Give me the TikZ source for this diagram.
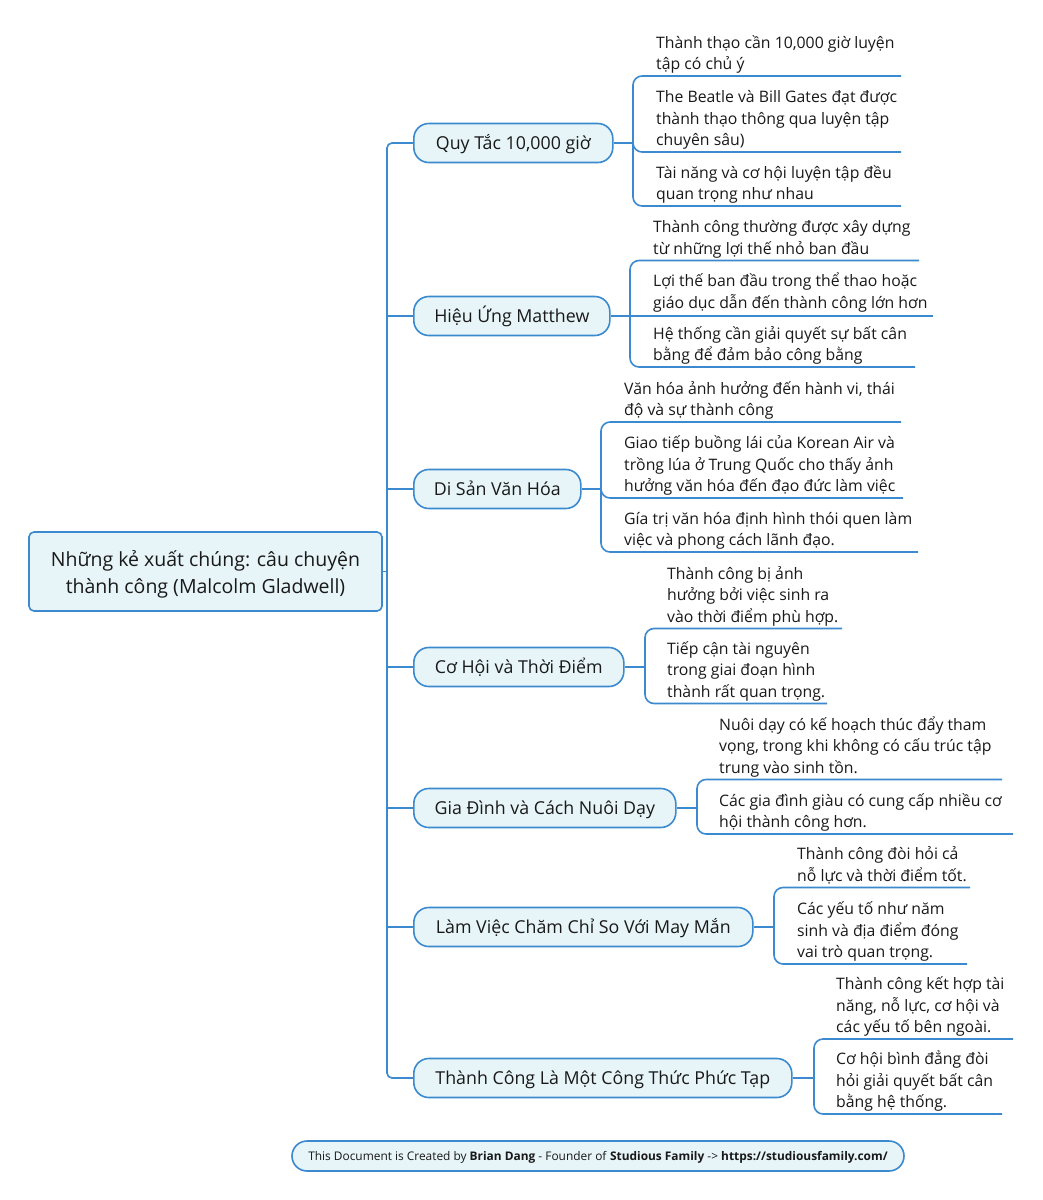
\documentclass[tikz,border=0pt]{standalone}
\usepackage{fontspec}
\setmainfont{Open Sans}
\definecolor{lineblue}{RGB}{59,138,207}
\definecolor{fillcyan}{RGB}{231,245,248}
\definecolor{txt}{RGB}{25,25,25}
\newcommand{\lv}[1]{\begin{tabular}[b]{@{}l@{}}#1\end{tabular}}
\newcommand{\lowerby}[2]{\raisebox{-#1}[\height][\depth]{#2}}
\begin{document}
\begin{tikzpicture}[x=1pt,y=-1pt,
  conn/.style={draw=lineblue, line width=1.6pt},
  leafconn/.style={conn, rounded corners=9pt},
  branch/.style={draw=lineblue, line width=1.6pt, fill=fillcyan, rounded corners=15pt,
    minimum height=39pt, inner sep=0pt, anchor=west, text=txt,
    font=\fontsize{17.8}{20}\selectfont, text height=14.5pt, text depth=1.5pt},
  rootbox/.style={draw=lineblue, line width=1.6pt, fill=fillcyan, rounded corners=5pt,
    inner sep=0pt, text=txt, font=\fontsize{19.5}{27}\selectfont},
  leaf/.style={anchor=base west, inner sep=0pt, text=txt, font=\fontsize{15.8}{21.5}\selectfont},
  footer/.style={draw=lineblue, line width=1.6pt, fill=fillcyan, rounded corners=15pt,
    inner sep=0pt, text=txt, font=\fontsize{11.9}{14}\selectfont}
]
\useasboundingbox[fill=white] (0,0) rectangle (1042,1200);

% root
\node[rootbox, minimum width=353pt, minimum height=79pt] (root) at (205.5,571.5)
  {\lowerby{3.5pt}{\begin{tabular}{@{}c@{}}Những kẻ xuất chúng: câu chuyện\\thành công (Malcolm Gladwell)\end{tabular}}};

% branches
\node[branch, minimum width=199pt] (b1) at (413,143) {Quy Tắc 10,000 giờ};
\node[branch, minimum width=196pt] (b2) at (413,316) {Hiệu Ứng Matthew};
\node[branch, minimum width=167pt] (b3) at (413,489) {Di Sản Văn Hóa};
\node[branch, minimum width=210pt] (b4) at (413,667) {Cơ Hội và Thời Điểm};
\node[branch, minimum width=262pt] (b5) at (413,808) {Gia Đình và Cách Nuôi Dạy};
\node[branch, minimum width=339pt] (b6) at (413,927) {Làm Việc Chăm Chỉ So Với May Mắn};
\node[branch, minimum width=378pt] (b7) at (413,1078) {Thành Công Là Một Công Thức Phức Tạp};

% trunk
\coordinate (t1) at (387,143);
\coordinate (t7) at (387,1078);
\coordinate (troot) at (387,571.5);
\draw[conn, rounded corners=5pt] (b1.west) -- (t1) -- (t7) -- (b7.west);
\draw[conn] (root.east) -- (troot);
\foreach \b in {b2,b3,b4,b5,b6} { \draw[conn] (\b.west -| t1) -- (\b.west); }

% leaves group 1
\node[leaf] (l11) at (656,69.5) {\lv{Thành thạo cần 10,000 giờ luyện\\tập có chủ ý}};
\node[leaf] (l12) at (656,145.5) {\lv{The Beatle và Bill Gates đạt được\\thành thạo thông qua luyện tập\\chuyên sâu)}};
\node[leaf] (l13) at (656,199.5) {\lv{Tài năng và cơ hội luyện tập đều\\quan trọng như nhau}};
\coordinate (g1) at (633,143);
\coordinate (u11) at (901,76);
\coordinate (u12) at (901,152);
\coordinate (u13) at (901,206);
\draw[conn] (b1.east) -- (g1);
\draw[leafconn] (g1) |- (u11);
\draw[leafconn] (g1) |- (u12);
\draw[leafconn] (g1) |- (u13);

% group 2
\node[leaf] (l21) at (653,254) {\lv{Thành công thường được xây dựng\\từ những lợi thế nhỏ ban đầu}};
\node[leaf] (l22) at (653,308) {\lv{Lợi thế ban đầu trong thể thao hoặc\\giáo dục dẫn đến thành công lớn hơn}};
\node[leaf] (l23) at (653,360.5) {\lv{Hệ thống cần giải quyết sự bất cân\\bằng để đảm bảo công bằng}};
\coordinate (g2) at (630,316);
\coordinate (u21) at (919,260.5);
\coordinate (u22) at (933,316);
\coordinate (u23) at (915,367);
\draw[conn] (b2.east) -- (g2);
\draw[leafconn] (g2) |- (u21);
\draw[conn] (g2) -- (u22);
\draw[leafconn] (g2) |- (u23);

% group 3
\node[leaf] (l31) at (624,415.5) {\lv{Văn hóa ảnh hưởng đến hành vi, thái\\độ và sự thành công}};
\node[leaf] (l32) at (624,491.5) {\lv{Giao tiếp buồng lái của Korean Air và\\trồng lúa ở Trung Quốc cho thấy ảnh\\hưởng văn hóa đến đạo đức làm việc}};
\node[leaf] (l33) at (624,545.5) {\lv{Gía trị văn hóa định hình thói quen làm\\việc và phong cách lãnh đạo.}};
\coordinate (g3) at (601,489);
\coordinate (u31) at (901,422);
\coordinate (u32) at (903,498);
\coordinate (u33) at (918,552);
\draw[conn] (b3.east) -- (g3);
\draw[leafconn] (g3) |- (u31);
\draw[leafconn] (g3) |- (u32);
\draw[leafconn] (g3) |- (u33);

% group 4
\node[leaf] (l41) at (667,622) {\lv{Thành công bị ảnh\\hưởng bởi việc sinh ra\\vào thời điểm phù hợp.}};
\node[leaf] (l42) at (667,697) {\lv{Tiếp cận tài nguyên\\trong giai đoạn hình\\thành rất quan trọng.}};
\coordinate (g4) at (645,667);
\coordinate (u41) at (842,628.5);
\coordinate (u42) at (827,703.5);
\draw[conn] (b4.east) -- (g4);
\draw[leafconn] (g4) |- (u41);
\draw[leafconn] (g4) |- (u42);

% group 5
\node[leaf] (l51) at (719,773) {\lv{Nuôi dạy có kế hoạch thúc đẩy tham\\vọng, trong khi không có cấu trúc tập\\trung vào sinh tồn.}};
\node[leaf] (l52) at (719,827.5) {\lv{Các gia đình giàu có cung cấp nhiều cơ\\hội thành công hơn.}};
\coordinate (g5) at (697,808);
\coordinate (u51) at (1002,779.5);
\coordinate (u52) at (1013,834);
\draw[conn] (b5.east) -- (g5);
\draw[leafconn] (g5) |- (u51);
\draw[leafconn] (g5) |- (u52);

% group 6
\node[leaf] (l61) at (797,881) {\lv{Thành công đòi hỏi cả\\nỗ lực và thời điểm tốt.}};
\node[leaf] (l62) at (797,957.5) {\lv{Các yếu tố như năm\\sinh và địa điểm đóng\\vai trò quan trọng.}};
\coordinate (g6) at (774,927);
\coordinate (u61) at (970,887.5);
\coordinate (u62) at (967,964);
\draw[conn] (b6.east) -- (g6);
\draw[leafconn] (g6) |- (u61);
\draw[leafconn] (g6) |- (u62);

% group 7
\node[leaf] (l71) at (836,1032.5) {\lv{Thành công kết hợp tài\\năng, nỗ lực, cơ hội và\\các yếu tố bên ngoài.}};
\node[leaf] (l72) at (836,1107.5) {\lv{Cơ hội bình đẳng đòi\\hỏi giải quyết bất cân\\bằng hệ thống.}};
\coordinate (g7) at (814,1078);
\coordinate (u71) at (1013,1039);
\coordinate (u72) at (1002,1114);
\draw[conn] (b7.east) -- (g7);
\draw[leafconn] (g7) |- (u71);
\draw[leafconn] (g7) |- (u72);

% footer
\node[footer, minimum width=612pt, minimum height=30pt] (ft) at (598,1156)
  {\lowerby{1.5pt}{This Document is Created by \textbf{Brian Dang} - Founder of \textbf{Studious Family} -> \textbf{https://studiousfamily.com/}}};
\end{tikzpicture}
\end{document}
